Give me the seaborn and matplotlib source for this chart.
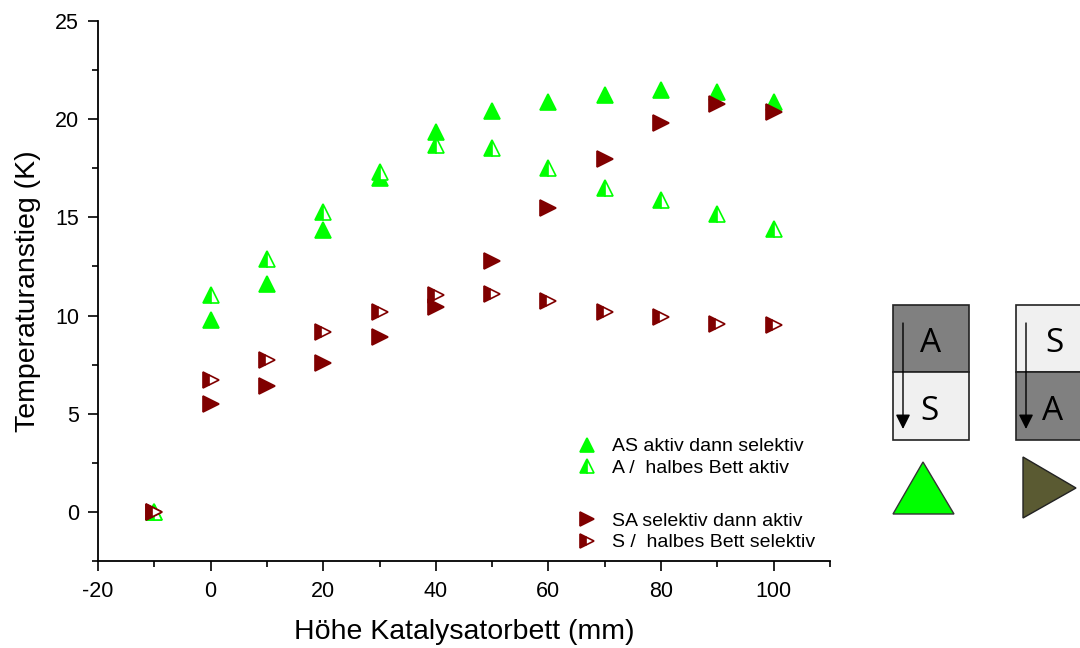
import matplotlib
matplotlib.use("Agg")
import matplotlib.pyplot as plt
import seaborn as sns
import pandas as pd
from matplotlib.patches import Rectangle, Polygon
from matplotlib.ticker import MultipleLocator
from matplotlib.lines import Line2D

sns.set_theme(style="ticks")
plt.rcParams["font.family"] = ["Liberation Sans", "DejaVu Sans"]
plt.rcParams["axes.unicode_minus"] = False
plt.rcParams["text.color"] = "black"
plt.rcParams["axes.labelcolor"] = "black"

# Bed height positions (mm)
hoehe = [-10, 0, 10, 20, 30, 40, 50, 60, 70, 80, 90, 100]

# Temperature rise (K) per configuration
as_aktiv_selektiv = [0.0, 9.75, 11.6, 14.35, 17.0, 19.35, 20.4, 20.85, 21.25, 21.5, 21.4, 20.85]
a_halb_aktiv = [0.0, 11.05, 12.9, 15.25, 17.3, 18.7, 18.55, 17.5, 16.5, 15.9, 15.15, 14.4]
sa_selektiv_aktiv = [0.0, 5.5, 6.4, 7.6, 8.9, 10.45, 12.8, 15.5, 17.95, 19.8, 20.75, 20.35]
s_halb_selektiv = [0.0, 6.7, 7.75, 9.15, 10.2, 11.05, 11.1, 10.75, 10.2, 9.9, 9.55, 9.5]

labels = [
    "AS aktiv dann selektiv",
    "A /  halbes Bett aktiv",
    "SA selektiv dann aktiv",
    "S /  halbes Bett selektiv",
]

gruen = "#00ff00"
rot = "#800000"

df = pd.DataFrame({
    "x": hoehe,
    "as": as_aktiv_selektiv,
    "a": a_halb_aktiv,
    "sa": sa_selektiv_aktiv,
    "s": s_halb_selektiv,
})

fig = plt.figure(figsize=(10.8, 6.48), dpi=100)
ax = fig.add_axes([0.0907, 0.1343, 0.6778, 0.8333])

styles = [
    ("as", "^", gruen, "full"),
    ("a", "^", gruen, "left"),
    ("sa", ">", rot, "full"),
    ("s", ">", rot, "left"),
]
for col, mk, c, fs in styles:
    sns.lineplot(data=df, x="x", y=col, ax=ax, linestyle="none", marker=mk,
                 markersize=11, color=c, markeredgecolor=c, markerfacecolor=c,
                 markerfacecoloralt="white", fillstyle=fs, markeredgewidth=1.2,
                 sort=False)

ax.set_xlim(-20, 110)
ax.set_ylim(-2.5, 25)
ax.xaxis.set_major_locator(MultipleLocator(20))
ax.xaxis.set_minor_locator(MultipleLocator(10))
ax.yaxis.set_major_locator(MultipleLocator(5))
ax.yaxis.set_minor_locator(MultipleLocator(2.5))
ax.tick_params(which="major", direction="out", length=7.5, width=1.2,
               labelsize=15.5, colors="black")
ax.tick_params(axis="x", which="major", pad=7)
ax.tick_params(axis="y", which="major", pad=6)
ax.tick_params(which="minor", direction="out", length=4, width=1.2, colors="black")
sns.despine(ax=ax)
for s in ("left", "bottom"):
    ax.spines[s].set_linewidth(1.3)
    ax.spines[s].set_color("black")
ax.set_xlabel("Höhe Katalysatorbett (mm)", fontsize=20.5, labelpad=12)
ax.set_ylabel("Temperaturanstieg (K)", fontsize=20.5, labelpad=10)

def handle(mk, c, fs):
    return Line2D([], [], linestyle="none", marker=mk, markersize=10, color=c,
                  markeredgecolor=c, markerfacecolor=c, markerfacecoloralt="white",
                  fillstyle=fs, markeredgewidth=1.2)

leg_kw = dict(loc="upper left", frameon=False, fontsize=14, handletextpad=0.7,
              labelspacing=0.2, handlelength=1.2, borderaxespad=0, borderpad=0)
leg1 = ax.legend([handle("^", gruen, "full"), handle("^", gruen, "left")], labels[:2],
                 bbox_to_anchor=(0.652, 0.228), **leg_kw)
ax.add_artist(leg1)
ax.legend([handle(">", rot, "full"), handle(">", rot, "left")], labels[2:],
          bbox_to_anchor=(0.652, 0.09), **leg_kw)

# Bed configuration sketches (figure pixel coordinates, origin top-left)
ov = fig.add_axes([0, 0, 1, 1])
ov.set_xlim(0, 1080)
ov.set_ylim(648, 0)
ov.axis("off")

dunkel = "#808080"
hell = "#f0f0f0"
def bett(x0, oben, unten, t_oben, t_unten, dx_unten):
    ov.add_patch(Rectangle((x0, 305), 76, 67, facecolor=oben, edgecolor="#222222", lw=1.2))
    ov.add_patch(Rectangle((x0, 372), 76, 68, facecolor=unten, edgecolor="#222222", lw=1.2))
    ov.text(x0 + 38, 344, t_oben, fontsize=24, ha="center", va="center",
            family="Open Sans", color="black")
    ov.text(x0 + 38 + dx_unten, 411, t_unten, fontsize=24, ha="center", va="center",
            family="Open Sans", color="black")
    ov.annotate("", xy=(x0 + 10, 429), xytext=(x0 + 10, 323),
                arrowprops=dict(arrowstyle="-|>", color="black", lw=1.0,
                                mutation_scale=22, shrinkA=0, shrinkB=0))

bett(893, dunkel, hell, "A", "S", -2)
bett(1016, hell, dunkel, "S", "A", -1)

ov.add_patch(Polygon([(893, 514), (954, 514), (923, 462)], closed=True,
                     facecolor=gruen, edgecolor="#333333", lw=1.0))
ov.add_patch(Polygon([(1023, 518), (1023, 457), (1076, 488)], closed=True,
                     facecolor="#5a5a32", edgecolor="#222222", lw=1.0))

fig.savefig("out.png", dpi=100)
